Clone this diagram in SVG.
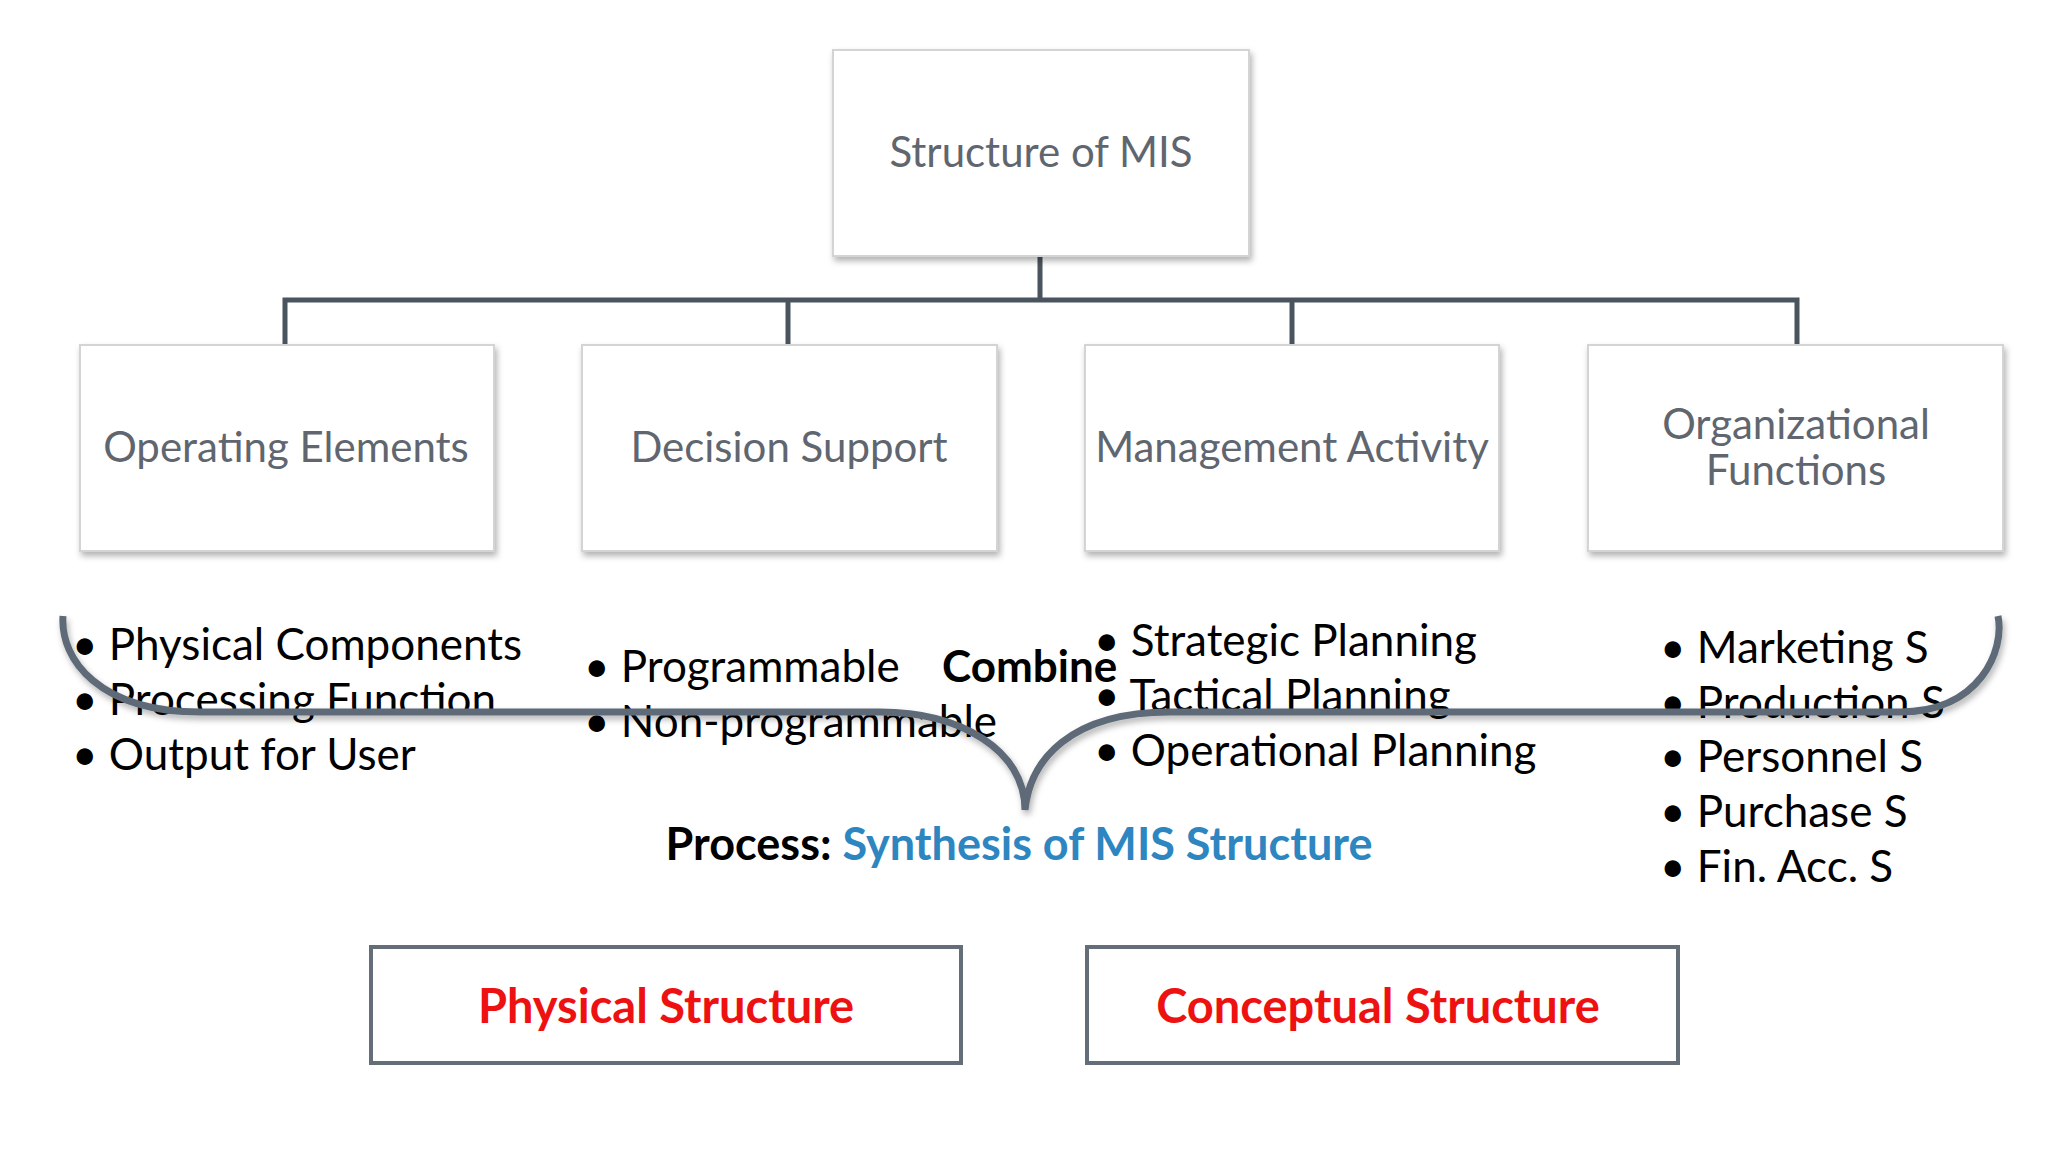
<svg xmlns="http://www.w3.org/2000/svg" width="2048" height="1152" viewBox="0 0 2048 1152">
<defs>
<filter id="sh" x="-5%" y="-5%" width="115%" height="120%"><feDropShadow dx="2" dy="4" stdDeviation="3" flood-color="#000" flood-opacity="0.3"/></filter>
<style>
.box{fill:#fff;stroke:#d4d4d4;stroke-width:2;filter:url(#sh)}
.lbl{font-family:Lato,"Liberation Sans",sans-serif;font-size:42px;fill:#5f6670;text-anchor:middle}
.b{font-family:Lato,"Liberation Sans",sans-serif;font-size:44px;fill:#000}
.conn{fill:none;stroke:#4a545e;stroke-width:5}
.out{fill:#fff;stroke:#646e78;stroke-width:4}
.red{font-family:Lato,"Liberation Sans",sans-serif;font-size:47px;font-weight:bold;fill:#ee1111;text-anchor:middle}
</style>
</defs>
<rect width="2048" height="1152" fill="#fff"/>
<g id="connectors">
<path class="conn" d="M1040 256V300M285 345V300H1797V345M788 300V345M1292 300V345"/>
</g>
<g id="root"><rect class="box" x="833" y="50" width="416" height="206"/><text class="lbl" x="1041" y="167">Structure of MIS</text></g>
<g id="n1"><rect class="box" x="80" y="345" width="414" height="206"/><text class="lbl" x="286" y="462">Operating Elements</text></g>
<g id="n2"><rect class="box" x="582" y="345" width="415" height="206"/><text class="lbl" x="789" y="462">Decision Support</text></g>
<g id="n3"><rect class="box" x="1085" y="345" width="414" height="206"/><text class="lbl" x="1292" y="462">Management Activity</text></g>
<g id="n4"><rect class="box" x="1588" y="345" width="415" height="206"/><text class="lbl" x="1796" y="439">Organizational</text><text class="lbl" x="1796" y="485">Functions</text></g>
<g id="lists">
<text class="b" x="72" y="660">• Physical Components</text>
<text class="b" x="72" y="715">• Processing Function</text>
<text class="b" x="72" y="770">• Output for User</text>
<text class="b" x="584" y="682">• Programmable</text>
<text class="b" x="584" y="737">• Non-programmable</text>
<text class="b" x="942" y="682" font-weight="bold">Combine</text>
<text class="b" x="1094" y="656">• Strategic Planning</text>
<text class="b" x="1094" y="711">• Tactical Planning</text>
<text class="b" x="1094" y="766">• Operational Planning</text>
<text class="b" x="1660" y="663">• Marketing S</text>
<text class="b" x="1660" y="718">• Production S</text>
<text class="b" x="1660" y="772">• Personnel S</text>
<text class="b" x="1660" y="827">• Purchase S</text>
<text class="b" x="1660" y="882">• Fin. Acc. S</text>
</g>
<g id="brace">
<path d="M63 616C60 660 100 712 200 712H880C960 712 1025 750 1025 810C1030 760 1070 712 1170 712H1900C1980 712 2005 650 1998 616" fill="none" stroke="#5f6b78" stroke-width="7" filter="url(#sh)"/>
</g>
<g id="process"><text x="1019" y="860" text-anchor="middle" font-family="Lato,'Liberation Sans',sans-serif" font-size="45" font-weight="bold"><tspan fill="#000">Process: </tspan><tspan fill="#2e86c1">Synthesis of MIS Structure</tspan></text></g>
<g id="phys"><rect class="out" x="371" y="947" width="590" height="116"/><text class="red" x="666" y="1023">Physical Structure</text></g>
<g id="conc"><rect class="out" x="1087" y="947" width="591" height="116"/><text class="red" x="1378" y="1023">Conceptual Structure</text></g>
</svg>
